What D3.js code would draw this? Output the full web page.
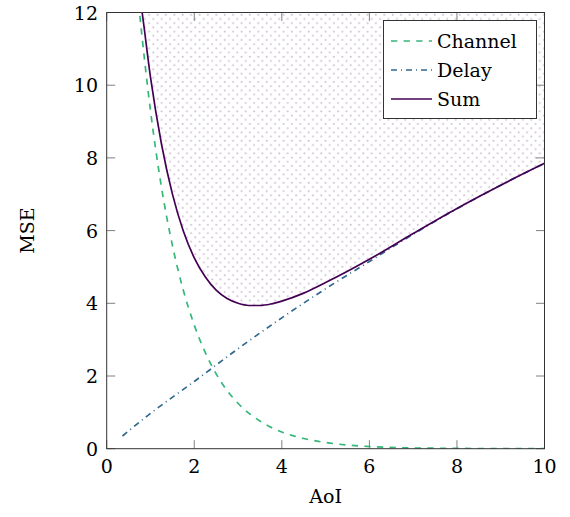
<!DOCTYPE html>
<head>
    <meta charset="utf-8">
    <script src="https://d3js.org/d3.v7.min.js"></script>
    <style>
        body { margin:0; background:#fff; }
        text { font-family: "DejaVu Serif", "Liberation Serif", serif; }
    </style>
</head>
<body>
    <svg id="chart" width="570" height="517"></svg>
    <script>
        // values
        const channelX = [0.7, 0.75, 1, 1.25, 1.5, 1.75, 2, 2.25, 2.5, 2.75, 3, 3.5, 4, 4.5, 5, 5.5, 6, 7, 8, 9, 10];
        const channelY = [12.6, 12, 9.3, 7.2, 5.6, 4.36, 3.4, 2.65, 2.06, 1.6, 1.25, 0.76, 0.46, 0.28, 0.17, 0.1, 0.06, 0.02, 0.01, 0, 0];

        const delayX = [0.36, 1, 2, 3, 4, 5, 6, 7, 8, 9, 10];
        const delayY = [0.35, 0.97, 1.85, 2.75, 3.6, 4.4, 5.15, 5.9, 6.6, 7.25, 7.85];

        const sumX = [0.76, 0.8, 1, 1.25, 1.5, 1.75, 2, 2.25, 2.5, 2.75, 3, 3.25, 3.5, 3.75, 4, 4.5, 5, 5.5, 6, 7, 8, 9, 10];
        const sumY = [12.4, 12.08, 10.22, 8.39, 7.01, 5.99, 5.25, 4.73, 4.36, 4.13, 4.0, 3.94, 3.94, 3.98, 4.06, 4.28, 4.57, 4.88, 5.21, 5.92, 6.61, 7.25, 7.85];

        const xTicks = [0, 2, 4, 6, 8, 10];
        const yTicks = [0, 2, 4, 6, 8, 10, 12];

        const seriesNames = ["Channel", "Delay", "Sum"];
        const colors = { Channel: "#35b779", Delay: "#31688e", Sum: "#440154" };
        const dashes = { Channel: "6.3,6.3", Delay: "6,4,1,4", Sum: null };

        const x = d3.scaleLinear().domain([0, 10]).range([106.7, 544.5]);
        const y = d3.scaleLinear().domain([0, 12]).range([448.7, 12.5]);

        const svg = d3.select("#chart");
        const defs = svg.append("defs");

        defs.append("clipPath").attr("id", "plotclip")
            .append("rect")
            .attr("x", x(0)).attr("y", y(12))
            .attr("width", x(10) - x(0)).attr("height", y(0) - y(12));

        const pat = defs.append("pattern").attr("id", "dots")
            .attr("patternUnits", "userSpaceOnUse")
            .attr("width", 8.4).attr("height", 8.4);
        pat.append("circle").attr("cx", 2.1).attr("cy", 2.1).attr("r", 1.05).attr("fill", "#d2c2d8");
        pat.append("circle").attr("cx", 6.3).attr("cy", 6.3).attr("r", 1.05).attr("fill", "#d2c2d8");

        const plot = svg.append("g").attr("clip-path", "url(#plotclip)");

        const sumPts = sumX.map((v, i) => [v, sumY[i]]);
        const area = d3.area()
            .x(d => x(d[0]))
            .y0(y(12))
            .y1(d => y(d[1]))
            .curve(d3.curveMonotoneX);
        plot.append("path").datum(sumPts)
            .attr("d", area)
            .attr("fill", "url(#dots)");

        const line = d3.line()
            .x(d => x(d[0]))
            .y(d => y(d[1]))
            .curve(d3.curveMonotoneX);

        const series = {
            Channel: channelX.map((v, i) => [v, channelY[i]]),
            Delay: delayX.map((v, i) => [v, delayY[i]]),
            Sum: sumPts
        };

        seriesNames.forEach(name => {
            plot.append("path").datum(series[name])
                .attr("d", line)
                .attr("fill", "none")
                .attr("stroke", colors[name])
                .attr("stroke-width", 1.7)
                .attr("stroke-dasharray", dashes[name]);
        });

        // ticks (inside, on all four sides)
        const tk = svg.append("g").attr("stroke", "#808080").attr("stroke-width", 1);
        xTicks.forEach(t => {
            tk.append("line").attr("x1", x(t)).attr("x2", x(t)).attr("y1", y(0)).attr("y2", y(0) - 8.5);
            tk.append("line").attr("x1", x(t)).attr("x2", x(t)).attr("y1", y(12)).attr("y2", y(12) + 8.5);
        });
        yTicks.forEach(t => {
            tk.append("line").attr("x1", x(0)).attr("x2", x(0) + 8.5).attr("y1", y(t)).attr("y2", y(t));
            tk.append("line").attr("x1", x(10)).attr("x2", x(10) - 8.5).attr("y1", y(t)).attr("y2", y(t));
        });

        svg.append("rect")
            .attr("x", x(0)).attr("y", y(12))
            .attr("width", x(10) - x(0)).attr("height", y(0) - y(12))
            .attr("fill", "none").attr("stroke", "#333").attr("stroke-width", 1);

        svg.append("g").selectAll("text").data(xTicks).join("text")
            .attr("x", d => x(d)).attr("y", 473)
            .attr("text-anchor", "middle")
            .attr("font-size", 19)
            .text(d => d);

        svg.append("g").selectAll("text").data(yTicks).join("text")
            .attr("x", 98).attr("y", d => y(d) + 7)
            .attr("text-anchor", "end")
            .attr("font-size", 19)
            .text(d => d);

        svg.append("text").attr("x", x(5)).attr("y", 503)
            .attr("text-anchor", "middle").attr("font-size", 19).text("AoI");
        svg.append("text")
            .attr("transform", `translate(34,${(y(0) + y(12)) / 2}) rotate(-90)`)
            .attr("text-anchor", "middle").attr("font-size", 19).text("MSE");

        // legend
        const lg = svg.append("g");
        lg.append("rect").attr("x", 383.5).attr("y", 20.5).attr("width", 153).attr("height", 98)
            .attr("fill", "#fff").attr("stroke", "#333").attr("stroke-width", 1);
        seriesNames.forEach((name, i) => {
            const yy = 41 + i * 29;
            lg.append("line").attr("x1", 391).attr("x2", 432).attr("y1", yy).attr("y2", yy)
                .attr("stroke", colors[name]).attr("stroke-width", 1.7)
                .attr("stroke-dasharray", dashes[name]);
            lg.append("text").attr("x", 437).attr("y", yy + 7)
                .attr("font-size", 19).text(name);
        });
    </script>
</body>
